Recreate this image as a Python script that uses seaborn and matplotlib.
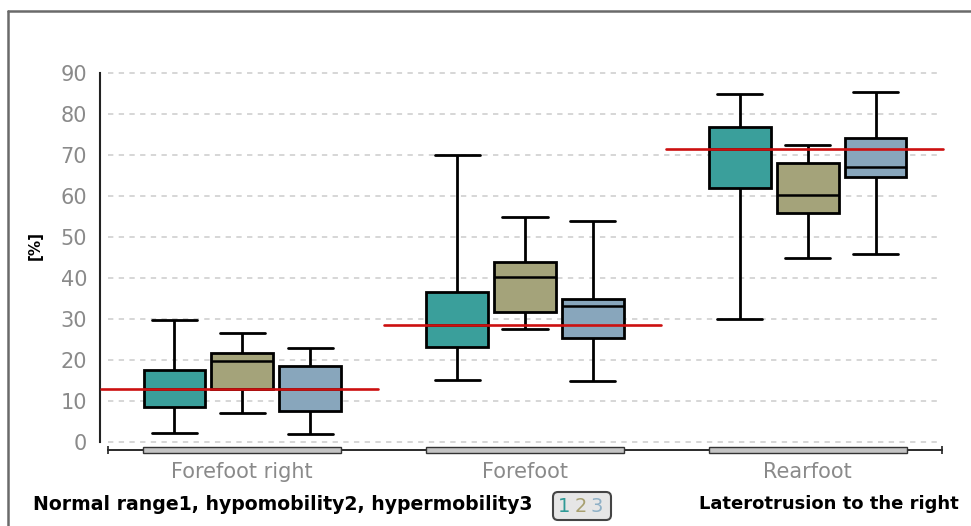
import numpy as np
import pandas as pd
import matplotlib
matplotlib.use("Agg")
import matplotlib.pyplot as plt
from matplotlib.lines import Line2D
from matplotlib.patches import FancyBboxPatch
import seaborn as sns

# ---- data ----
categories = ["Forefoot right", "Forefoot", "Rearfoot"]
groups = ["Normal range", "Hypomobility", "Hypermobility"]
# five-number summaries per box: min, q1, median, q3, max
normal_stats = [[2.3, 8.5, 13.0, 17.5, 29.7],
                [15.2, 23.2, 28.6, 36.5, 70.0],
                [30.0, 62.0, 71.4, 76.8, 85.0]]
hypo_stats = [[7.0, 13.0, 19.7, 21.7, 26.5],
              [27.6, 31.7, 40.2, 44.0, 55.0],
              [45.0, 56.0, 60.3, 68.2, 72.4]]
hyper_stats = [[2.0, 7.5, 13.0, 18.5, 23.0],
               [14.8, 25.5, 33.3, 35.0, 54.0],
               [46.0, 64.7, 67.2, 74.3, 85.3]]
reference_values = [13.0, 28.6, 71.4]
y_ticks = [0, 10, 20, 30, 40, 50, 60, 70, 80, 90]

colors = ["#3a9f9b", "#a4a37a", "#88a6bc"]
legend_digit_colors = ["#2f9a96", "#a8a070", "#8eb0c6"]

rows = []
for g, stats in zip(groups, [normal_stats, hypo_stats, hyper_stats]):
    for c, s in zip(categories, stats):
        for v in s:
            rows.append({"category": c, "group": g, "value": v})
df = pd.DataFrame(rows)

sns.set_style("white")
plt.rcParams["font.family"] = ["DejaVu Sans"]

W, H = 971, 526
fig = plt.figure(figsize=(W / 100, H / 100), dpi=100)
ax = fig.add_axes([108 / W, 1 - 450 / H, 834 / W, 378 / H])

sns.boxplot(data=df, x="category", y="value", hue="group", order=categories,
            hue_order=groups, palette=colors, width=0.72, gap=0.09,
            whis=(0, 100), linewidth=2.0, linecolor="black", saturation=1,
            medianprops={"linewidth": 1.8}, capwidths=0.16,
            legend=False, ax=ax, zorder=3)

ax.set_ylim(-1.95, 90.3)
ax.set_xlim(-0.475, 2.475)
ax.set_yticks(y_ticks)
ax.set_yticklabels([str(t) for t in y_ticks])

# grid
for t in y_ticks:
    ax.axhline(t, color="#cccccc", lw=1.1, ls=(0, (3.5, 3.5)), zorder=1)

# reference lines
for i, v in enumerate(reference_values):
    ax.plot([i - 0.5, i + 0.48], [v, v], color="#cc1010", lw=1.9,
            zorder=5, clip_on=False)

# spines
for s in ["top", "right"]:
    ax.spines[s].set_visible(False)
ax.spines["left"].set_position(("outward", 6))
ax.spines["left"].set_bounds(0, 90)
ax.spines["left"].set_linewidth(1.5)
ax.spines["left"].set_color("#222222")
ax.spines["bottom"].set_linewidth(1.4)
ax.spines["bottom"].set_color("#2a2a2a")
ax.tick_params(axis="y", length=6, width=1.5, color="#222222",
               labelcolor="#8a8a8a", labelsize=15, pad=3)
ax.tick_params(axis="x", length=0, labelcolor="#8a8a8a", labelsize=15, pad=9)
ax.set_xlabel("")
ax.set_ylabel("[%]", fontsize=11, fontweight="bold", color="black")
ax.yaxis.set_label_coords(-0.078, 0.54)

# category bars on the x axis
ax.bar(range(len(categories)), height=1.3, bottom=-2.6, width=0.7,
       color="#c4c4c4", edgecolor="#333333", linewidth=1.0,
       clip_on=False, zorder=6)
ax.plot([0, 1], [0, 0], transform=ax.transAxes, ls="none", marker="|",
        ms=6, mew=1.3, color="#333333", clip_on=False)

# frame lines
fig.add_artist(Line2D([8 / W, 8 / W], [0, 1 - 11 / H], color="#6a6a6a",
                      lw=1.8, transform=fig.transFigure))
fig.add_artist(Line2D([8 / W, 1], [1 - 11 / H, 1 - 11 / H], color="#6a6a6a",
                      lw=1.8, transform=fig.transFigure))

# bottom texts
fig.text(33 / W, 1 - 504 / H, "Normal range1, hypomobility2, hypermobility3",
         ha="left", va="center", fontsize=13.6, fontweight="bold",
         color="black")
fig.text(959 / W, 1 - 504 / H, "Laterotrusion to the right",
         ha="right", va="center", fontsize=13.0, fontweight="bold",
         color="black")

box = FancyBboxPatch((553 / 100, (H - 520) / 100), 0.58, 0.28,
                     boxstyle="round,pad=0,rounding_size=0.05",
                     transform=fig.dpi_scale_trans, facecolor="#e6e6e6",
                     edgecolor="#444444", lw=1.5)
fig.add_artist(box)
for k, (d, c) in enumerate(zip("123", legend_digit_colors)):
    fig.text((564 + 16.5 * k) / W, 1 - 506 / H, d, color=c, ha="center",
             va="center", fontsize=14)

fig.savefig("out.png", dpi=100)
